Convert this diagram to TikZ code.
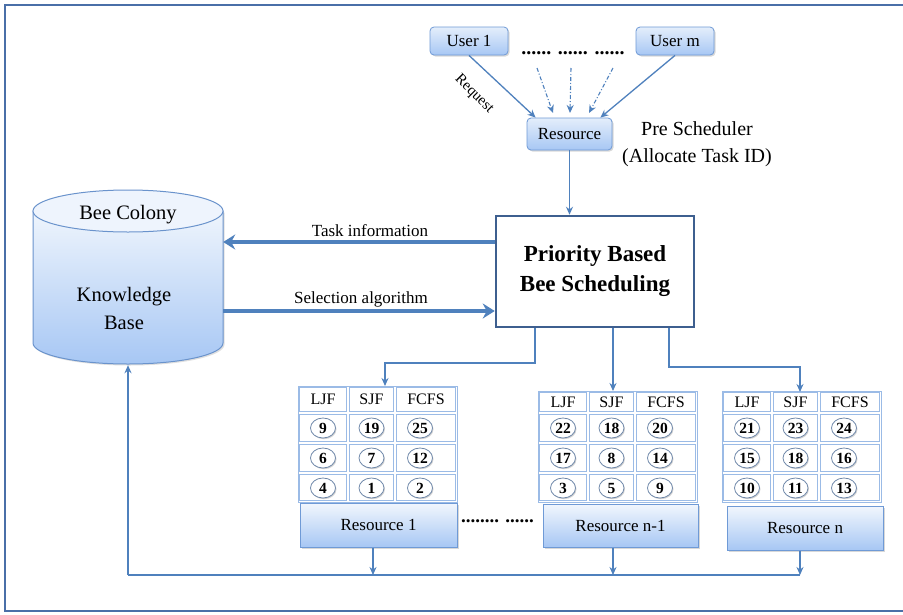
\documentclass[tikz,border=0pt]{standalone}
\usepackage{fontspec}
\setmainfont{Liberation Serif}
\usetikzlibrary{arrows.meta,shadows,calc,shapes.geometric}
\definecolor{lineblue}{HTML}{4F81BD}
\definecolor{frameblue}{HTML}{4A6FA8}
\definecolor{tabblue}{HTML}{9BBBE6}
\definecolor{boxedge}{HTML}{6F9AD6}
\definecolor{boxlight}{HTML}{E4EEFB}
\definecolor{boxdark}{HTML}{A7C7F4}
\definecolor{pbedge}{HTML}{3E5F8F}
\definecolor{cyledge}{HTML}{6A93CC}
\definecolor{cyltop}{HTML}{EEF4FD}
\definecolor{numedge}{HTML}{6F88AA}
\tikzset{
  shad/.style={drop shadow={opacity=0.3, shadow xshift=1.5pt, shadow yshift=-1.5pt}},
  userbox/.style={rounded corners=4pt, draw=boxedge, line width=0.8pt, top color=boxlight, bottom color=boxdark,
    minimum height=28pt, inner sep=0pt, font=\fontsize{17}{20}\selectfont, shad},
  resbox/.style={draw=boxedge, line width=1pt, top color=white!50!boxlight, bottom color=boxdark,
    inner sep=0pt, font=\fontsize{17}{20}\selectfont, shad},
  arr/.style={draw=lineblue, line width=1.3pt, -{Stealth[length=8pt,width=7pt]}},
  ddarr/.style={draw=lineblue, line width=1.1pt, dash pattern=on 4pt off 2pt on 1pt off 2pt, -{Stealth[length=8pt,width=7pt]}},
  bigarr/.style={draw=lineblue, line width=4pt, -{Stealth[length=12pt,width=15pt,inset=4pt]}},
  conn/.style={draw=lineblue, line width=1.3pt},
  tabline/.style={draw=tabblue, line width=0.9pt},
  hdr/.style={inner sep=0pt, font=\fontsize{16}{18}\selectfont},
  num/.style={ellipse, draw=numedge, line width=0.8pt, fill=white, minimum width=25pt, minimum height=20pt,
    inner sep=0pt, font=\fontsize{15.5}{16}\selectfont\bfseries,
    drop shadow={opacity=0.35, shadow xshift=1pt, shadow yshift=-1.2pt}},
  lbl/.style={inner sep=0pt, font=\fontsize{17}{20}\selectfont},
}
\newcommand{\restab}[4]{%
  \begin{scope}[shift={(#2,0)}]
    \draw[tabline] (0,#3) rectangle (159,502);
    \foreach \a/\b/\t [count=\k] in {0/50/LJF,50/97/SJF,97/159/FCFS}{
      \draw[tabline] (\a+1.8,#3+1.8) rectangle (\b-1.8,411.2);
      \foreach \ya/\yb in {413/443,443/473,473/502}
        \draw[tabline] (\a+1.8,\ya+1.8) rectangle (\b-1.8,\yb-1.8);
      \node[hdr] (#1h\k) at ({(\a+\b)/2},{(#3+413)/2}) {\t};
    }
    \foreach \n [count=\i from 0] in {#4}{
      \pgfmathtruncatemacro\coli{mod(\i,3)}
      \pgfmathtruncatemacro\rowi{div(\i,3)}
      \node[num] (#1n\i) at ({25+48.5*\coli},{428+30*\rowi}) {\n};
    }
  \end{scope}}
\begin{document}
\begin{tikzpicture}[x=1pt,y=-1pt]
\useasboundingbox (0,0) rectangle (903,614);
\fill[white] (0,0) rectangle (903,614);
\draw[frameblue, line width=1.8pt] (903,5) -- (5,5) -- (5,611) -- (903,611);

% users and pre scheduler
\node[userbox, minimum width=78pt] (u1) at (469,41) {User 1};
\node[userbox, minimum width=78pt] (um) at (675,41) {User m};
\node[inner sep=0pt, font=\fontsize{20}{20}\selectfont\bfseries] (dots) at (573,53) {...... ...... ......};
\node[userbox, minimum width=85pt, minimum height=32pt] (res) at (569.5,134) {Resource};
\node[inner sep=0pt, font=\fontsize{20}{27}\selectfont, align=center] (pre) at (697,144) {Pre Scheduler\\(Allocate Task ID)};

\draw[arr] (u1.south) -- ($(res.north west)+(9,0)$);
\draw[arr] (um.south) -- ($(res.north east)+(-12,0)$);
\coordinate (d1) at (537,68); \coordinate (d1e) at (553,113);
\coordinate (d2) at (571,68); \coordinate (d2e) at (570,113);
\coordinate (d3) at (613,68); \coordinate (d3e) at (589,113);
\draw[ddarr] (d1) -- (d1e);
\draw[ddarr] (d2) -- (d2e);
\draw[ddarr] (d3) -- (d3e);
\node[inner sep=0pt, rotate=-45, font=\fontsize{15}{16}\selectfont] (req) at (474,94) {Request};

% priority based bee scheduling
\node[draw=pbedge, line width=2.5pt, fill=white, minimum width=198pt, minimum height=111pt, inner sep=0pt,
  align=center, font=\fontsize{23}{30}\selectfont\bfseries] (pbbs) at (595,271.5) {Priority Based\\Bee Scheduling};
\draw[arr] (res.south) -- (res.south |- pbbs.north);

% knowledge base cylinder
\shade[top color=white!40!boxlight, bottom color=boxdark, draw=cyledge, line width=1pt,
  drop shadow={opacity=0.25, shadow xshift=1.5pt, shadow yshift=-1.5pt}]
  (33,211) -- (33,343) arc[start angle=180, end angle=360, x radius=95pt, y radius=21pt] -- (223,211) -- cycle;
\draw[draw=cyledge, line width=1pt, fill=cyltop] (128,211) ellipse [x radius=95pt, y radius=21pt];
\node[inner sep=0pt, minimum width=190pt, minimum height=175pt] (kb) at (128,277.5) {};
\node[lbl, font=\fontsize{20.5}{20}\selectfont] (bc) at (128,215) {Bee Colony};
\node[lbl, font=\fontsize{20.5}{28}\selectfont, align=center] (kbt) at (124,308) {Knowledge\\Base};

\draw[bigarr] (pbbs.west |- 0,242) -- (kb.east |- 0,242);
\draw[bigarr] (kb.east |- 0,311) -- (pbbs.west |- 0,311);
\node[lbl] (ti) at (370,231) {Task information};
\node[lbl] (sa) at (361,299) {Selection algorithm};

% tables
\restab{ta}{298}{386}{9,19,25,6,7,12,4,1,2}
\restab{tb}{538}{391}{22,18,20,17,8,14,3,5,9}
\restab{tc}{722}{391}{21,23,24,15,18,16,10,11,13}
\coordinate (ta top) at (385,386);
\coordinate (tb top) at (613,391);
\coordinate (tc top) at (800,392);

\draw[arr] (pbbs.south -| 535,0) |- (385,363) -- (ta top);
\draw[arr] (pbbs.south -| tb top) -- (tb top);
\draw[arr] (pbbs.south -| 669,0) |- (800,367) -- (tc top);

% resource boxes
\node[resbox, minimum width=157pt, minimum height=44pt] (r1) at (378.5,525) {Resource 1};
\node[resbox, minimum width=155pt, minimum height=43pt] (rn1) at (620.5,525.5) {Resource n-1};
\node[resbox, minimum width=156pt, minimum height=44pt] (rn) at (805,528) {Resource n};
\node[inner sep=0pt, font=\fontsize{19}{20}\selectfont\bfseries] (mdots) at (497.5,521) {........ ......};

% feedback
\coordinate (fb1) at (373,575);
\coordinate (fb2) at (613,575);
\coordinate (fb3) at (800,575);
\draw[conn] (fb3) -- (kb.south |- fb3);
\draw[arr] (kb.south |- fb3) -- (kb.south);
\draw[arr] (r1.south -| fb1) -- (fb1);
\draw[arr] (rn1.south -| fb2) -- (fb2);
\draw[arr] (rn.south -| fb3) -- (fb3);
\end{tikzpicture}
\end{document}
